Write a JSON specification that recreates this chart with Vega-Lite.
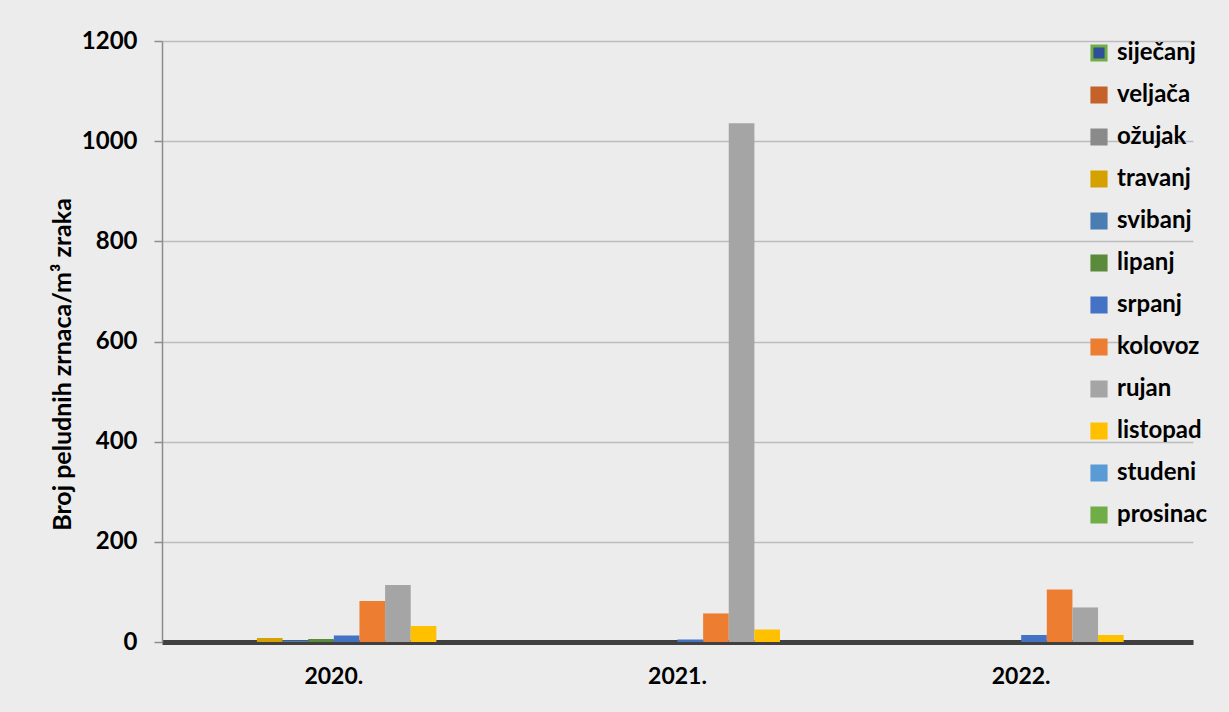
{
  "$schema": "https://vega.github.io/schema/vega-lite/v6.json",
  "autosize": {"type": "none"},
  "width": 1031,
  "height": 601,
  "padding": {"left": 162, "top": 41, "right": 36, "bottom": 70},
  "background": "#ececec",
  "config": {
    "view": {"stroke": null},
    "font": "Lato"
  },
  "data": {
    "values": [
      {"godina": "2020.", "mjesec": "siječanj", "vrijednost": 0},
      {"godina": "2020.", "mjesec": "veljača", "vrijednost": 0},
      {"godina": "2020.", "mjesec": "ožujak", "vrijednost": 0},
      {"godina": "2020.", "mjesec": "travanj", "vrijednost": 8},
      {"godina": "2020.", "mjesec": "svibanj", "vrijednost": 3},
      {"godina": "2020.", "mjesec": "lipanj", "vrijednost": 6},
      {"godina": "2020.", "mjesec": "srpanj", "vrijednost": 13},
      {"godina": "2020.", "mjesec": "kolovoz", "vrijednost": 82},
      {"godina": "2020.", "mjesec": "rujan", "vrijednost": 114},
      {"godina": "2020.", "mjesec": "listopad", "vrijednost": 32},
      {"godina": "2020.", "mjesec": "studeni", "vrijednost": 0},
      {"godina": "2020.", "mjesec": "prosinac", "vrijednost": 0},
      {"godina": "2021.", "mjesec": "siječanj", "vrijednost": 0},
      {"godina": "2021.", "mjesec": "veljača", "vrijednost": 0},
      {"godina": "2021.", "mjesec": "ožujak", "vrijednost": 0},
      {"godina": "2021.", "mjesec": "travanj", "vrijednost": 0},
      {"godina": "2021.", "mjesec": "svibanj", "vrijednost": 0},
      {"godina": "2021.", "mjesec": "lipanj", "vrijednost": 0},
      {"godina": "2021.", "mjesec": "srpanj", "vrijednost": 5},
      {"godina": "2021.", "mjesec": "kolovoz", "vrijednost": 57},
      {"godina": "2021.", "mjesec": "rujan", "vrijednost": 1036},
      {"godina": "2021.", "mjesec": "listopad", "vrijednost": 25},
      {"godina": "2021.", "mjesec": "studeni", "vrijednost": 0},
      {"godina": "2021.", "mjesec": "prosinac", "vrijednost": 0},
      {"godina": "2022.", "mjesec": "siječanj", "vrijednost": 0},
      {"godina": "2022.", "mjesec": "veljača", "vrijednost": 0},
      {"godina": "2022.", "mjesec": "ožujak", "vrijednost": 0},
      {"godina": "2022.", "mjesec": "travanj", "vrijednost": 0},
      {"godina": "2022.", "mjesec": "svibanj", "vrijednost": 0},
      {"godina": "2022.", "mjesec": "lipanj", "vrijednost": 0},
      {"godina": "2022.", "mjesec": "srpanj", "vrijednost": 14},
      {"godina": "2022.", "mjesec": "kolovoz", "vrijednost": 105},
      {"godina": "2022.", "mjesec": "rujan", "vrijednost": 69},
      {"godina": "2022.", "mjesec": "listopad", "vrijednost": 14},
      {"godina": "2022.", "mjesec": "studeni", "vrijednost": 0},
      {"godina": "2022.", "mjesec": "prosinac", "vrijednost": 0}
    ]
  },
  "mark": {"type": "bar", "strokeWidth": 0},
  "encoding": {
    "x": {
      "field": "godina",
      "type": "nominal",
      "scale": {"paddingInner": 0.105, "paddingOuter": 0.0525},
      "axis": {
        "title": null,
        "labelAngle": 0,
        "labelFont": "Lato",
        "labelFontWeight": "bold",
        "labelFontSize": 23,
        "labelColor": "#000000",
        "labelPadding": 23,
        "ticks": false,
        "domainColor": "#404040",
        "domainWidth": 5,
        "grid": false
      }
    },
    "xOffset": {
      "field": "mjesec",
      "type": "nominal",
      "sort": ["siječanj", "veljača", "ožujak", "travanj", "svibanj", "lipanj", "srpanj", "kolovoz", "rujan", "listopad", "studeni", "prosinac"],
      "scale": {"paddingInner": 0, "paddingOuter": 0}
    },
    "y": {
      "field": "vrijednost",
      "type": "quantitative",
      "scale": {"domain": [0, 1200]},
      "axis": {
        "title": "Broj peludnih zrnaca/m³ zraka",
        "titleFont": "Lato",
        "titleFontWeight": "bold",
        "titleFontSize": 25,
        "titleColor": "#000000",
        "titlePadding": 6,
        "titleY": 323,
        "values": [0, 200, 400, 600, 800, 1000, 1200],
        "format": "d",
        "labelFont": "Lato",
        "labelFontWeight": "bold",
        "labelFontSize": 24,
        "labelColor": "#000000",
        "labelPadding": 17,
        "tickSize": 8,
        "tickColor": "#8c8c8c",
        "tickWidth": 1.5,
        "domainColor": "#8c8c8c",
        "domainWidth": 1.5,
        "gridColor": "#bcbcbc",
        "gridWidth": 1.5
      }
    },
    "color": {
      "field": "mjesec",
      "type": "nominal",
      "sort": ["siječanj", "veljača", "ožujak", "travanj", "svibanj", "lipanj", "srpanj", "kolovoz", "rujan", "listopad", "studeni", "prosinac"],
      "scale": {
        "domain": ["siječanj", "veljača", "ožujak", "travanj", "svibanj", "lipanj", "srpanj", "kolovoz", "rujan", "listopad", "studeni", "prosinac"],
        "range": ["#2f4f96", "#c4622a", "#8a8a8a", "#d4a100", "#4a7eb2", "#5a8a3a", "#4472c4", "#ed7d31", "#a5a5a5", "#ffc000", "#5b9bd5", "#70ad47"]
      },
      "legend": {
        "title": null,
        "orient": "none",
        "legendX": 925,
        "legendY": 0,
        "symbolType": "square",
        "symbolSize": 200,
        "symbolStrokeWidth": 3,
        "labelFont": "Lato",
        "labelFontWeight": "bold",
        "labelFontSize": 24,
        "labelColor": "#000000",
        "labelOffset": 6,
        "rowPadding": 14
      }
    },
    "stroke": {
      "field": "mjesec",
      "type": "nominal",
      "sort": ["siječanj", "veljača", "ožujak", "travanj", "svibanj", "lipanj", "srpanj", "kolovoz", "rujan", "listopad", "studeni", "prosinac"],
      "scale": {
        "domain": ["siječanj", "veljača", "ožujak", "travanj", "svibanj", "lipanj", "srpanj", "kolovoz", "rujan", "listopad", "studeni", "prosinac"],
        "range": ["#70ad47", "#c4622a", "#8a8a8a", "#d4a100", "#4a7eb2", "#5a8a3a", "#4472c4", "#ed7d31", "#a5a5a5", "#ffc000", "#5b9bd5", "#70ad47"]
      },
      "legend": {
        "title": null,
        "orient": "none",
        "legendX": 925,
        "legendY": 0,
        "symbolType": "square",
        "symbolSize": 200,
        "symbolStrokeWidth": 3,
        "labelFont": "Lato",
        "labelFontWeight": "bold",
        "labelFontSize": 24,
        "labelColor": "#000000",
        "labelOffset": 6,
        "rowPadding": 14
      }
    }
  }
}
